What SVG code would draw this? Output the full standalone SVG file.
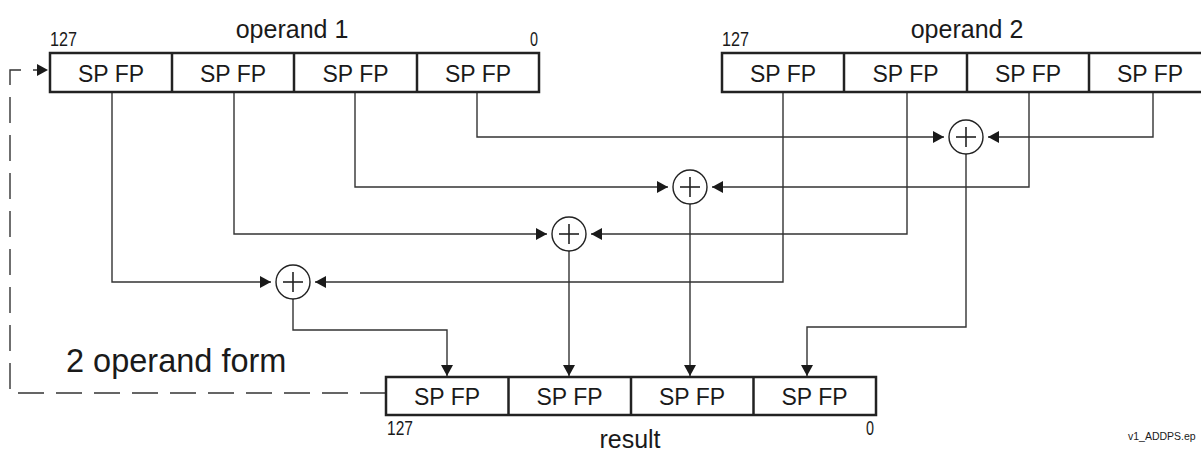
<svg xmlns="http://www.w3.org/2000/svg" width="1201" height="451" viewBox="0 0 1201 451">
<style>
.bg{fill:#ffffff}
.box{fill:#ffffff;stroke:#222222;stroke-width:2.5}
.div{stroke:#222222;stroke-width:2.5}
.cell{font-family:"Liberation Sans",Arial,sans-serif;font-size:23px;fill:#1a1a1a;text-anchor:middle}
.lbl{font-family:"Liberation Sans",Arial,sans-serif;font-size:25px;fill:#1a1a1a;text-anchor:middle}
.num{font-family:"Liberation Sans",Arial,sans-serif;font-size:19.5px;fill:#1a1a1a}
.big{font-family:"Liberation Sans",Arial,sans-serif;font-size:32.5px;fill:#1a1a1a}
.tiny{font-family:"Liberation Sans",Arial,sans-serif;font-size:10.5px;fill:#1a1a1a}
.wire{fill:none;stroke:#333333;stroke-width:1.4}
.dash{fill:none;stroke:#333333;stroke-width:1.4;stroke-dasharray:26 12}
.add{fill:#ffffff;stroke:#222222;stroke-width:1.4}
.plus{stroke:#222222;stroke-width:1.6}
</style>
<defs>
<marker id="ah" markerUnits="userSpaceOnUse" markerWidth="11" markerHeight="12" refX="11" refY="6" orient="auto">
<path d="M0,0 L11,6 L0,12 z" fill="#1a1a1a"/>
</marker>
</defs>
<rect class="bg" x="0" y="0" width="1201" height="451"/>

<g id="connectors">
<path class="wire" d="M477,92 V137 H944" marker-end="url(#ah)"/>
<path class="wire" d="M1153,92 V137 H988" marker-end="url(#ah)"/>
<path class="wire" d="M355,92 V187 H668" marker-end="url(#ah)"/>
<path class="wire" d="M1029,92 V187 H712" marker-end="url(#ah)"/>
<path class="wire" d="M234,92 V234 H547" marker-end="url(#ah)"/>
<path class="wire" d="M907,92 V234 H591" marker-end="url(#ah)"/>
<path class="wire" d="M112,92 V282 H271" marker-end="url(#ah)"/>
<path class="wire" d="M783,92 V282 H315" marker-end="url(#ah)"/>
<path class="wire" d="M293,299 V330 H447 V376" marker-end="url(#ah)"/>
<path class="wire" d="M569,251 V376" marker-end="url(#ah)"/>
<path class="wire" d="M690,204 V376" marker-end="url(#ah)"/>
<path class="wire" d="M966,154 V327 H807 V376" marker-end="url(#ah)"/>
<path class="dash" d="M386,393 H10 V70 H37"/>
<path d="M37,64 L48,70 L37,76 z" fill="#1a1a1a"/>
</g>

<g id="operand1">
<rect class="box" x="50" y="53" width="489" height="39"/>
<line class="div" x1="172" y1="53" x2="172" y2="92"/>
<line class="div" x1="294" y1="53" x2="294" y2="92"/>
<line class="div" x1="417" y1="53" x2="417" y2="92"/>
<text class="cell" x="111" y="82">SP FP</text>
<text class="cell" x="233" y="82">SP FP</text>
<text class="cell" x="355.5" y="82">SP FP</text>
<text class="cell" x="478" y="82">SP FP</text>
<text class="lbl" x="292" y="38">operand 1</text>
<text class="num" x="50" y="46" textLength="27" lengthAdjust="spacingAndGlyphs">127</text>
<text class="num" x="530" y="46" textLength="8" lengthAdjust="spacingAndGlyphs">0</text>
</g>

<g id="operand2">
<rect class="box" x="722" y="53" width="489" height="39"/>
<line class="div" x1="844" y1="53" x2="844" y2="92"/>
<line class="div" x1="967" y1="53" x2="967" y2="92"/>
<line class="div" x1="1089" y1="53" x2="1089" y2="92"/>
<text class="cell" x="783" y="82">SP FP</text>
<text class="cell" x="905.5" y="82">SP FP</text>
<text class="cell" x="1028" y="82">SP FP</text>
<text class="cell" x="1150" y="82">SP FP</text>
<text class="lbl" x="967" y="38">operand 2</text>
<text class="num" x="722" y="46" textLength="27" lengthAdjust="spacingAndGlyphs">127</text>
</g>

<g id="adder1">
<circle class="add" cx="966" cy="137" r="17"/>
<line class="plus" x1="956" y1="137" x2="976" y2="137"/>
<line class="plus" x1="966" y1="127" x2="966" y2="147"/>
</g>
<g id="adder2">
<circle class="add" cx="690" cy="187" r="17"/>
<line class="plus" x1="680" y1="187" x2="700" y2="187"/>
<line class="plus" x1="690" y1="177" x2="690" y2="197"/>
</g>
<g id="adder3">
<circle class="add" cx="569" cy="234" r="17"/>
<line class="plus" x1="559" y1="234" x2="579" y2="234"/>
<line class="plus" x1="569" y1="224" x2="569" y2="244"/>
</g>
<g id="adder4">
<circle class="add" cx="293" cy="282" r="17"/>
<line class="plus" x1="283" y1="282" x2="303" y2="282"/>
<line class="plus" x1="293" y1="272" x2="293" y2="292"/>
</g>

<g id="result">
<rect class="box" x="386" y="377" width="490" height="38"/>
<line class="div" x1="508.5" y1="377" x2="508.5" y2="415"/>
<line class="div" x1="631" y1="377" x2="631" y2="415"/>
<line class="div" x1="753.5" y1="377" x2="753.5" y2="415"/>
<text class="cell" x="447" y="405">SP FP</text>
<text class="cell" x="569.5" y="405">SP FP</text>
<text class="cell" x="692" y="405">SP FP</text>
<text class="cell" x="814.5" y="405">SP FP</text>
<text class="lbl" x="630" y="448">result</text>
<text class="num" x="387" y="435" textLength="26" lengthAdjust="spacingAndGlyphs">127</text>
<text class="num" x="866" y="435" textLength="8" lengthAdjust="spacingAndGlyphs">0</text>
</g>

<g id="form-label">
<text class="big" x="66" y="372">2 operand form</text>
</g>

<text class="tiny" x="1128" y="440">v1_ADDPS.ep</text>
</svg>
